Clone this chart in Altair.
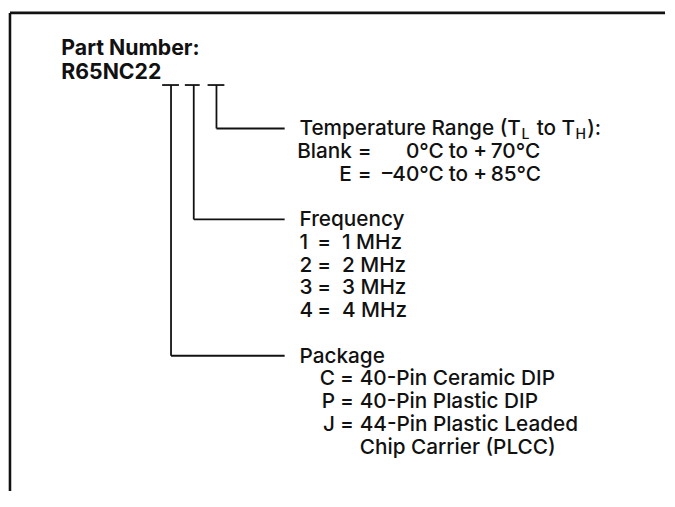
import altair as alt
import pandas as pd

# ---------------- content ----------------
title_lines = ["Part Number:", "R65NC22"]
temp_heading = ["Temperature Range (T", "L", "to T", "H", "):"]
temp_codes = ["Blank", "E"]
temp_low = ["0°C", "–40°C"]
temp_high = ["+\u200970°C", "+\u200985°C"]
freq_heading = "Frequency"
freq_codes = ["1", "2", "3", "4"]
freq_values = ["1 MHz", "2 MHz", "3 MHz", "4 MHz"]
pkg_heading = "Package"
pkg_codes = ["C", "P", "J", ""]
pkg_desc = ["40-Pin Ceramic DIP", "40-Pin Plastic DIP", "44-Pin Plastic Leaded", "Chip Carrier (PLCC)"]

# ---------------- layout (page pixels) ----------------
W, H = 664, 485
X0, Y0 = 8, 8
FONT = "Inter"
F = 21            # body font size
FT = 21.5         # title font size
FS = F * 0.68     # subscript size
INK = "#111111"

title_x = 61
title_rows = [52, 76]

tick_y = 82
tick_spans = [(163, 180), (186, 201), (209, 226)]
stem_x = [172, 195, 218]
line_end = 287
text_x = 302

temp_rows = [133, 156, 179]          # heading, Blank, E
freq_rows = [225, 248, 271, 294, 317]
pkg_rows = [363, 386, 409, 432, 455]
line_off = 7

# approximate advance widths (1/1000 em), widened slightly for Inter
AW = {" ": 278, "(": 333, ")": 333, ":": 278, "T": 611, "L": 556,
      "H": 722, "t": 278, "o": 556, "e": 556, "m": 833, "p": 556, "r": 333,
      "a": 556, "u": 556, "R": 722, "n": 556, "g": 556}
WIDEN = 1.045


def tw(s, size):
    return sum(AW.get(c, 556) for c in s) * size * WIDEN / 1000.0


# ---------------- rules ----------------
border = pd.DataFrame({
    "x": [X0 + 1, X0 + 1], "y": [Y0 + 1, Y0 + 1],
    "x2": [X0 + W, X0 + 1], "y2": [Y0 + 1, Y0 + H],
})

seg = []
for a, b in tick_spans:
    seg.append((a, tick_y, b, tick_y))
line_rows = [pkg_rows[0] - line_off, freq_rows[0] - line_off, temp_rows[0] - line_off]
for sx, ly in zip(stem_x, line_rows):
    seg.append((sx, tick_y, sx, ly))
    seg.append((sx, ly, line_end, ly))
segs = pd.DataFrame(seg, columns=["x", "y", "x2", "y2"])

# ---------------- texts ----------------
left_rows = []   # (text, x, y, size)
right_rows = []
bold_rows = [(t, title_x, y, FT) for t, y in zip(title_lines, title_rows)]

cx = text_x
for i, piece in enumerate(temp_heading):
    if i in (1, 3):
        left_rows.append((piece, cx + 1.5, temp_rows[0] + 4, FS))
        cx += tw(piece, FS) + 2.5
    else:
        if i == 2:
            cx += tw(" ", F)
        left_rows.append((piece, cx, temp_rows[0], F))
        cx += tw(piece, F)

for code, lo, hi, y in zip(temp_codes, temp_low, temp_high, temp_rows[1:]):
    right_rows.append((code, 355, y, F))
    left_rows.append(("=", 361, y, F))
    right_rows.append((lo, 448, y, F))
    left_rows.append(("to", 453, y, F))
    left_rows.append((hi, 478, y, F))

left_rows.append((freq_heading, text_x, freq_rows[0], F))
for code, val, y in zip(freq_codes, freq_values, freq_rows[1:]):
    left_rows.append((code, text_x, y, F))
    left_rows.append(("=", 320, y, F))
    left_rows.append((val, 345, y, F))

left_rows.append((pkg_heading, text_x, pkg_rows[0], F))
for code, desc, y in zip(pkg_codes, pkg_desc, pkg_rows[1:]):
    if code:
        right_rows.append((code, 338, y, F))
        left_rows.append(("=", 343, y, F))
    left_rows.append((desc, 363, y, F))

cols = ["label", "x", "y", "size"]
left_df = pd.DataFrame(left_rows, columns=cols)
right_df = pd.DataFrame(right_rows, columns=cols)
bold_df = pd.DataFrame(bold_rows, columns=cols)

xs = alt.Scale(domain=[X0, X0 + W], range=[0, W], nice=False, zero=False)
ys = alt.Scale(domain=[Y0, Y0 + H], range=[0, H], nice=False, zero=False)


def X(f="x"):
    return alt.X(f"{f}:Q", scale=xs, axis=None)


def Y(f="y"):
    return alt.Y(f"{f}:Q", scale=ys, axis=None)


border_layer = alt.Chart(border).mark_rule(color=INK, strokeWidth=2.6).encode(
    x=X(), y=Y(), x2="x2:Q", y2="y2:Q")
seg_layer = alt.Chart(segs).mark_rule(color=INK, strokeWidth=1.8).encode(
    x=X(), y=Y(), x2="x2:Q", y2="y2:Q")


def text_layer(df, align, weight):
    return alt.Chart(df).mark_text(
        align=align, baseline="alphabetic", font=FONT, fontWeight=weight, color=INK,
    ).encode(
        x=X(), y=Y(), text="label:N",
        size=alt.Size("size:Q", scale=None, legend=None))


left_layer = text_layer(left_df, "left", 500)
right_layer = text_layer(right_df, "right", 500)
bold_layer = text_layer(bold_df, "left", 700)

chart = alt.layer(border_layer, seg_layer, bold_layer, left_layer, right_layer).properties(
    width=W, height=H, padding=0, background="white"
).configure_view(stroke=None)

chart.save("out.html", embed_options={"renderer": "svg", "actions": False})
